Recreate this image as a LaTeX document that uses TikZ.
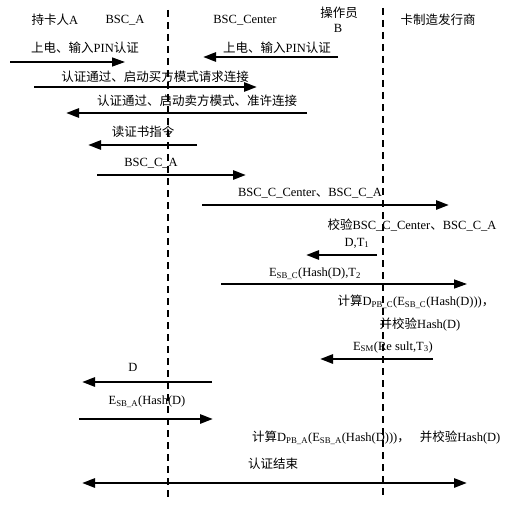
\documentclass[tikz,border=0pt]{standalone}
\usepackage{fontspec}
\setmainfont{Liberation Serif}
\newfontfamily\cjk[Scale=1.0]{Noto Sans CJK SC}
\newcommand{\zh}[1]{{\cjk #1}}
\usetikzlibrary{arrows.meta}
\begin{document}
\begin{tikzpicture}[x=1pt,y=-1pt,>={Triangle[length=13pt,width=9pt]},font=\fontsize{12.5}{15}\selectfont,
	msg/.style={->,line width=2.7pt},
	lmsg/.style={->,line width=1.3pt},
	life/.style={line width=2pt,dash pattern=on 7pt off 5pt},
	lbl/.style={inner sep=0pt}]
	\useasboundingbox (0,0) rectangle (517,511);
	\def \xa{168};
	\def \xb{383};
	% lifelines
	\coordinate (ta) at (\xa,10);
	\coordinate (ba) at (\xa,498);
	\coordinate (tb) at (\xb,8);
	\coordinate (bb) at (\xb,498);
	\draw[life] (ta) -- (ba);
	\draw[life] (tb) -- (bb);
	% roles
	\node[lbl] (holder) at (55,20) {\zh{持卡人}A};
	\node[lbl] (bsca) at (125,20) {BSC\_A};
	\node[lbl] (center) at (245,20) {BSC\_Center};
	\node[lbl] (oper) at (339,13) {\zh{操作员}};
	\node[lbl] (operb) at (338,28) {B};
	\node[lbl] (issuer) at (438,20) {\zh{卡制造发行商}};
	% power on
	\node[lbl] (pinA) at (85,48) {\zh{上电、输入}PIN\zh{认证}};
	\coordinate (pinAs) at (10,62);
	\coordinate (pinAe) at (125,62);
	\draw[lmsg] (pinAs) -- (pinAe);
	\node[lbl] (pinB) at (277,48) {\zh{上电、输入}PIN\zh{认证}};
	\coordinate (pinBs) at (338,57);
	\coordinate (pinBe) at (203,57);
	\draw[msg] (pinBs) -- (pinBe);
	% connection
	\node[lbl] (req) at (155,77) {\zh{认证通过、启动买方模式请求连接}};
	\coordinate (reqs) at (34,87);
	\coordinate (reqe) at (257,87);
	\draw[msg] (reqs) -- (reqe);
	\node[lbl] (acc) at (197,101) {\zh{认证通过、启动卖方模式、准许连接}};
	\coordinate (accs) at (307,113);
	\coordinate (acce) at (66,113);
	\draw[msg] (accs) -- (acce);
	% certificates
	\node[lbl] (rdc) at (143,132) {\zh{读证书指令}};
	\coordinate (rdcs) at (197,145);
	\coordinate (rdce) at (88,145);
	\draw[msg] (rdcs) -- (rdce);
	\node[lbl] (cA) at (151,163) {BSC\_C\_A};
	\coordinate (cAs) at (97,175);
	\coordinate (cAe) at (246,175);
	\draw[msg] (cAs) -- (cAe);
	\node[lbl] (cC) at (310,193) {BSC\_C\_Center\zh{、}BSC\_C\_A};
	\coordinate (cCs) at (202,205);
	\coordinate (cCe) at (449,205);
	\draw[msg] (cCs) -- (cCe);
	\node[lbl] (chk) at (412,225) {\zh{校验}BSC\_C\_Center\zh{、}BSC\_C\_A};
	% challenge
	\node[lbl] (dt) at (357,243) {D,T\textsubscript{1}};
	\coordinate (dts) at (377,255);
	\coordinate (dte) at (306,255);
	\draw[msg] (dts) -- (dte);
	\node[lbl] (esb) at (315,274) {E\textsubscript{SB\_C}(Hash(D),T\textsubscript{2}};
	\coordinate (esbs) at (221,284);
	\coordinate (esbe) at (467,284);
	\draw[lmsg] (esbs) -- (esbe);
	\node[lbl] (dpb) at (416,302) {\zh{计算}D\textsubscript{PB\_C}(E\textsubscript{SB\_C}(Hash(D)))\zh{，}};
	\node[lbl] (vfy) at (420,325) {\zh{并校验}Hash(D)};
	\node[lbl] (esm) at (393,347) {E\textsubscript{SM}(Re sult,T\textsubscript{3})};
	\coordinate (esms) at (433,359);
	\coordinate (esme) at (320,359);
	\draw[msg] (esms) -- (esme);
	\node[lbl] (d) at (133,367) {D};
	\coordinate (ds) at (212,382);
	\coordinate (de) at (82,382);
	\draw[msg] (ds) -- (de);
	\node[lbl] (esa) at (147,402) {E\textsubscript{SB\_A}(Hash(D)};
	\coordinate (esas) at (79,419);
	\coordinate (esae) at (213,419);
	\draw[msg] (esas) -- (esae);
	\node[lbl,anchor=west] (dpa) at (252,438) {\zh{计算}D\textsubscript{PB\_A}(E\textsubscript{SB\_A}(Hash(D)))\zh{，}\hspace{10pt}\zh{并校验}Hash(D)};
	% end
	\node[lbl] (fin) at (273,464) {\zh{认证结束}};
	\coordinate (fins) at (82,483);
	\coordinate (fine) at (467,483);
	\draw[msg,<->] (fins) -- (fine);
\end{tikzpicture}
\end{document}
